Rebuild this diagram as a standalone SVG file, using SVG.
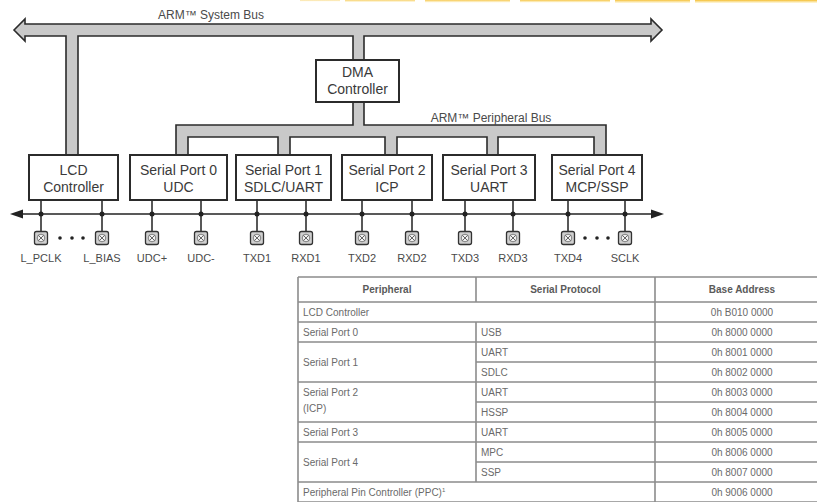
<svg xmlns="http://www.w3.org/2000/svg" width="817" height="502" viewBox="0 0 817 502">
  <defs>
    <style>
      .bus { fill: #c9c9c9; stroke: #2b2b2b; stroke-width: 1.6; stroke-linejoin: miter; }
      .box { fill: #ffffff; stroke: #2b2b2b; stroke-width: 2; }
      .btxt { font-family: "Liberation Sans", Arial, sans-serif; font-size: 14px; fill: #3a3a3a; text-anchor: middle; }
      .blab { font-family: "Liberation Sans", Arial, sans-serif; font-size: 12px; fill: #4a4a4a; text-anchor: middle; }
      .wire { stroke: #222; stroke-width: 1.5; fill: none; }
      .dot { fill: #222; }
      .pin { fill: #cfcfcf; stroke: #333; stroke-width: 1.3; }
      .pinx { stroke: #555; stroke-width: 0.9; fill: none; }
      .plab { font-family: "Liberation Sans", Arial, sans-serif; font-size: 11px; fill: #4a4a4a; text-anchor: middle; }
      .grid { stroke: #8c8c8c; stroke-width: 1.6; fill: none; }
      .th { font-family: "Liberation Sans", Arial, sans-serif; font-size: 10px; font-weight: bold; fill: #5a5a5a; text-anchor: middle; }
      .td { font-family: "Liberation Sans", Arial, sans-serif; font-size: 10px; fill: #6a6a6a; }
      .tc { font-family: "Liberation Sans", Arial, sans-serif; font-size: 10px; fill: #6a6a6a; text-anchor: middle; }
    </style>
    <linearGradient id="ruleFade" x1="0" y1="0" x2="0" y2="1">
      <stop offset="0" stop-color="#f4b820"/>
      <stop offset="1" stop-color="#fbe38a" stop-opacity="0.3"/>
    </linearGradient>
    <g id="pinGlyph">
      <rect class="pin" x="-6.5" y="-6.5" width="13" height="13" rx="2"/>
      <circle cx="0" cy="0" r="3.8" fill="#f2f2f2" stroke="#666" stroke-width="0.8"/>
      <path class="pinx" d="M-2.6,-2.6 L2.6,2.6 M-2.6,2.6 L2.6,-2.6"/>
    </g>
  </defs>

  <rect width="817" height="502" fill="#ffffff"/>

  <!-- decorative yellow rule along the top edge -->
  <g id="top-rule" fill="url(#ruleFade)">
    <rect x="300" y="0" width="40" height="1.5" opacity="0.5"/>
    <rect x="345" y="0" width="70" height="2" opacity="0.7"/>
    <rect x="425" y="0" width="85" height="2.5" opacity="0.8"/>
    <rect x="520" y="0" width="90" height="2.5" opacity="0.85"/>
    <rect x="615" y="0" width="75" height="3" opacity="0.9"/>
    <rect x="695" y="0" width="122" height="3" opacity="0.95"/>
  </g>

  <!-- buses and connectors -->
  <g id="connectors">
    <!-- ARM system bus with drops to the LCD controller and DMA controller -->
    <path id="system-bus" class="bus" d="M14,30 L25,19 L25,24 L651,24 L651,19 L662,30 L651,41 L651,36 L364,36 L364,60 L353,60 L353,36 L78,36 L78,155 L66,155 L66,36 L25,36 L25,41 Z"/>
    <text class="blab" x="211" y="19">ARM™ System Bus</text>

    <!-- ARM peripheral bus from the DMA controller to the serial ports -->
    <path id="peripheral-bus" class="bus" d="M176,125 L353,125 L353,102 L364,102 L364,125 L606,125 L606,155 L594,155 L594,137 L498,137 L498,155 L487,155 L487,137 L397,137 L397,155 L385,155 L385,137 L290,137 L290,155 L278,155 L278,137 L188,137 L188,155 L176,155 Z"/>
    <text class="blab" x="491" y="122">ARM™ Peripheral Bus</text>

    <!-- pin bus -->
    <line class="wire" x1="20" y1="214" x2="654" y2="214"/>
    <polygon class="dot" points="10,214 23,209.5 23,218.5"/>
    <polygon class="dot" points="664,214 651,209.5 651,218.5"/>

    <!-- drops from each block to its pins -->
    <g id="pin-wires">
      <path class="wire" d="M41,200 V231 M102,200 V231 M152,200 V231 M201,200 V231 M257,200 V231 M306,200 V231 M362,200 V231 M412,200 V231 M465,200 V231 M513,200 V231 M568,200 V231 M625,200 V231"/>
      <circle class="dot" cx="41" cy="214" r="2.5"/>
      <circle class="dot" cx="102" cy="214" r="2.5"/>
      <circle class="dot" cx="152" cy="214" r="2.5"/>
      <circle class="dot" cx="201" cy="214" r="2.5"/>
      <circle class="dot" cx="257" cy="214" r="2.5"/>
      <circle class="dot" cx="306" cy="214" r="2.5"/>
      <circle class="dot" cx="362" cy="214" r="2.5"/>
      <circle class="dot" cx="412" cy="214" r="2.5"/>
      <circle class="dot" cx="465" cy="214" r="2.5"/>
      <circle class="dot" cx="513" cy="214" r="2.5"/>
      <circle class="dot" cx="568" cy="214" r="2.5"/>
      <circle class="dot" cx="625" cy="214" r="2.5"/>
    </g>
  </g>

  <!-- blocks -->
  <g id="dma">
    <rect class="box" x="316" y="60" width="83" height="42"/>
    <text class="btxt" x="357.5" y="77">DMA</text>
    <text class="btxt" x="357.5" y="94">Controller</text>
  </g>
  <g id="lcd">
    <rect class="box" x="29" y="155" width="89" height="45"/>
    <text class="btxt" x="73.5" y="175">LCD</text>
    <text class="btxt" x="73.5" y="192">Controller</text>
  </g>
  <g id="sp0">
    <rect class="box" x="130" y="155" width="97" height="45"/>
    <text class="btxt" x="178.5" y="175">Serial Port 0</text>
    <text class="btxt" x="178.5" y="192">UDC</text>
  </g>
  <g id="sp1">
    <rect class="box" x="236" y="155" width="95" height="45"/>
    <text class="btxt" x="283.5" y="175">Serial Port 1</text>
    <text class="btxt" x="283.5" y="192">SDLC/UART</text>
  </g>
  <g id="sp2">
    <rect class="box" x="342" y="155" width="90" height="45"/>
    <text class="btxt" x="387" y="175">Serial Port 2</text>
    <text class="btxt" x="387" y="192">ICP</text>
  </g>
  <g id="sp3">
    <rect class="box" x="443" y="155" width="92" height="45"/>
    <text class="btxt" x="489" y="175">Serial Port 3</text>
    <text class="btxt" x="489" y="192">UART</text>
  </g>
  <g id="sp4">
    <rect class="box" x="552" y="155" width="90" height="45"/>
    <text class="btxt" x="597" y="175">Serial Port 4</text>
    <text class="btxt" x="597" y="192">MCP/SSP</text>
  </g>

  <!-- pins -->
  <g id="pins">
    <use href="#pinGlyph" x="41" y="238"/>
    <use href="#pinGlyph" x="102" y="238"/>
    <use href="#pinGlyph" x="152" y="238"/>
    <use href="#pinGlyph" x="201" y="238"/>
    <use href="#pinGlyph" x="257" y="238"/>
    <use href="#pinGlyph" x="306" y="238"/>
    <use href="#pinGlyph" x="362" y="238"/>
    <use href="#pinGlyph" x="412" y="238"/>
    <use href="#pinGlyph" x="465" y="238"/>
    <use href="#pinGlyph" x="513" y="238"/>
    <use href="#pinGlyph" x="568" y="238"/>
    <use href="#pinGlyph" x="625" y="238"/>
    <circle class="dot" cx="60" cy="238" r="1.8"/>
    <circle class="dot" cx="72" cy="238" r="1.8"/>
    <circle class="dot" cx="83" cy="238" r="1.8"/>
    <circle class="dot" cx="585" cy="238" r="1.8"/>
    <circle class="dot" cx="597" cy="238" r="1.8"/>
    <circle class="dot" cx="608" cy="238" r="1.8"/>
    <text class="plab" x="41" y="262">L_PCLK</text>
    <text class="plab" x="102" y="262">L_BIAS</text>
    <text class="plab" x="152" y="262">UDC+</text>
    <text class="plab" x="201" y="262">UDC-</text>
    <text class="plab" x="257" y="262">TXD1</text>
    <text class="plab" x="306" y="262">RXD1</text>
    <text class="plab" x="362" y="262">TXD2</text>
    <text class="plab" x="412" y="262">RXD2</text>
    <text class="plab" x="465" y="262">TXD3</text>
    <text class="plab" x="513" y="262">RXD3</text>
    <text class="plab" x="568" y="262">TXD4</text>
    <text class="plab" x="625" y="262">SCLK</text>
  </g>

  <!-- peripheral address table -->
  <g id="address-table">
    <path class="grid" d="M298,277 H830 M298,302 H830 M298,322 H830 M298,342 H830 M476,362 H830 M298,382 H830 M476,402 H830 M298,422 H830 M298,442 H830 M476,462 H830 M298,482 H830 M298,502 H830"/>
    <path class="grid" d="M298,277 V502 M655,277 V502 M476,277 V302 M476,322 V482"/>
    <text class="th" x="387" y="293">Peripheral</text>
    <text class="th" x="565.5" y="293">Serial Protocol</text>
    <text class="th" x="742" y="293">Base Address</text>

    <text class="td" x="303" y="315.5">LCD Controller</text>
    <text class="td" x="303" y="335.5">Serial Port 0</text>
    <text class="td" x="303" y="365.5">Serial Port 1</text>
    <text class="td" x="303" y="395.5">Serial Port 2</text>
    <text class="td" x="303" y="411.5">(ICP)</text>
    <text class="td" x="303" y="435.5">Serial Port 3</text>
    <text class="td" x="303" y="465.5">Serial Port 4</text>
    <text class="td" x="303" y="495.5">Peripheral Pin Controller (PPC)<tspan font-size="6" dy="-4">1</tspan></text>

    <text class="td" x="481" y="335.5">USB</text>
    <text class="td" x="481" y="355.5">UART</text>
    <text class="td" x="481" y="375.5">SDLC</text>
    <text class="td" x="481" y="395.5">UART</text>
    <text class="td" x="481" y="415.5">HSSP</text>
    <text class="td" x="481" y="435.5">UART</text>
    <text class="td" x="481" y="455.5">MPC</text>
    <text class="td" x="481" y="475.5">SSP</text>

    <text class="tc" x="742" y="315.5">0h B010 0000</text>
    <text class="tc" x="742" y="335.5">0h 8000 0000</text>
    <text class="tc" x="742" y="355.5">0h 8001 0000</text>
    <text class="tc" x="742" y="375.5">0h 8002 0000</text>
    <text class="tc" x="742" y="395.5">0h 8003 0000</text>
    <text class="tc" x="742" y="415.5">0h 8004 0000</text>
    <text class="tc" x="742" y="435.5">0h 8005 0000</text>
    <text class="tc" x="742" y="455.5">0h 8006 0000</text>
    <text class="tc" x="742" y="475.5">0h 8007 0000</text>
    <text class="tc" x="742" y="495.5">0h 9006 0000</text>
  </g>
</svg>
